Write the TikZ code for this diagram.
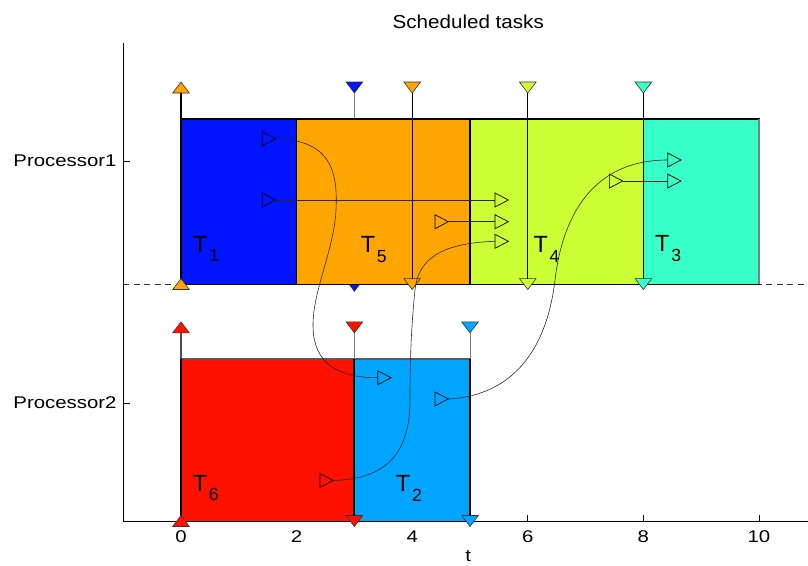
\documentclass[tikz,border=0pt]{standalone}
\usepackage{graphicx,fontspec}
\setmainfont{Liberation Sans}
\definecolor{tOne}{RGB}{0,20,255}
\definecolor{tTwo}{RGB}{0,165,255}
\definecolor{tThree}{RGB}{55,255,200}
\definecolor{tFour}{RGB}{204,255,51}
\definecolor{tFive}{RGB}{255,165,0}
\definecolor{tSix}{RGB}{255,17,0}
\usetikzlibrary{arrows.meta,shapes.geometric}
\newcommand{\tname}[1]{T\kern1.5pt\raisebox{-8pt}{\fontsize{15}{15}\selectfont #1}}
\newcommand{\wide}[1]{\scalebox{1.2}[1]{#1}}

\begin{document}
\begin{tikzpicture}[x=1.734cm,y=1.734cm,
  mkr/.style={isosceles triangle,isosceles triangle stretches,draw,inner sep=0pt,outer sep=0pt,minimum width=0.42cm,minimum height=0.40cm,line width=0.6pt},
  mks/.style={mkr,anchor=east},
  mke/.style={mkr,anchor=west},
  mkv/.style={isosceles triangle,isosceles triangle stretches,draw=black!80,inner sep=0pt,outer sep=0pt,minimum width=0.5cm,minimum height=0.33cm,line width=0.5pt},
  mkup/.style={mkv,rotate=90,anchor=west,fill=#1},
  mkdn/.style={mkv,rotate=-90,anchor=west,fill=#1},
  link/.style={line width=0.5pt,black!85},
  lbl/.style={font=\fontsize{20}{24}\selectfont,anchor=base west,inner sep=0pt},
  axl/.style={font=\fontsize{14.5}{17}\selectfont,inner sep=0pt}]
  \useasboundingbox (-3.131,-0.761) rectangle (10.848,9.014);
  % axes
  \draw[line width=0.6pt] (-1,8.27) -- (-1,0) -- (10.9,0);
  \foreach \x in {0,2,...,10} {
    \draw[line width=0.6pt] (\x,0) -- (\x,0.1);
    \node[axl] at (\x,-0.277) {\wide{\x}};
  }
  \draw[line width=0.6pt] (-1,6.228) -- (-0.88,6.228);
  \draw[line width=0.6pt] (-1,2.042) -- (-0.88,2.042);
  \node[axl,anchor=east] (p1) at (-1.11,6.228) {\wide{Processor1}};
  \node[axl,anchor=east] (p2) at (-1.11,2.042) {\wide{Processor2}};
  \node[axl,anchor=north] (tax) at (4.97,-0.5) {\wide{t}};
  \node[font=\fontsize{16}{19}\selectfont,inner sep=0pt] (ttl) at (4.97,8.63) {\scalebox{1.1}[1]{Scheduled tasks}};
  \draw[dash pattern=on 5pt off 4pt,black!80,line width=0.5pt] (-1,4.1) -- (10.9,4.1);
  % deadline of T1, partly under the boxes
  \node[mkdn=tOne] (da) at (3,7.595) {};
  \node[mkdn=tOne] (db) at (3,4.165) {};
  \draw[gray,line width=0.6pt] (da.east) -- (3,6.955);
  % Processor1
  \draw[line width=0.9pt,fill=tOne] (0,4.1) rectangle (2,6.955);
  \draw[line width=0.9pt,fill=tFive] (2,4.1) rectangle (5,6.955);
  \draw[line width=0.9pt,fill=tFour] (5,4.1) rectangle (8,6.955);
  \draw[line width=0.9pt,fill=tThree] (8,4.1) rectangle (10,6.955);
  \draw[gray,line width=0.9pt] (10,4.1) -- (10,6.955);
  \draw[line width=1.8pt] (0,4.1) -- (0,6.955);
  % Processor2
  \fill[tSix] (0,0) rectangle (3,2.803);
  \fill[tTwo] (3,0) rectangle (5,2.803);
  \draw[black!65,line width=0.9pt] (0,2.803) -- (5,2.803);
  \draw[line width=1.8pt] (0,0) -- (0,2.803) (3,0) -- (3,2.803);
  \draw[line width=0.9pt] (5,0) -- (5,2.803);
  % releases and deadlines
  \node[mkup=tFive] (ra) at (0,7.405) {};
  \node[mkup=tFive] (rb) at (0,4.005) {};
  \node[mkdn=tFive] (fa) at (4,7.595) {};
  \node[mkdn=tFive] (fb) at (4,4.195) {};
  \node[mkdn=tFour] (ga) at (6,7.595) {};
  \node[mkdn=tFour] (gb) at (6,4.195) {};
  \node[mkdn=tThree] (ha) at (8,7.595) {};
  \node[mkdn=tThree] (hb) at (8,4.195) {};
  \draw[line width=1.6pt] (ra.west) -- (0,6.955);
  \draw[line width=0.6pt] (fa.east) -- (fb.west);
  \draw[line width=0.6pt] (ga.east) -- (gb.west);
  \draw[line width=0.6pt] (ha.east) -- (hb.west);
  \node[mkup=tSix] (ka) at (0,3.255) {};
  \node[mkup=tSix] (kb) at (0,-0.095) {};
  \node[mkdn=tSix] (la) at (3,3.445) {};
  \node[mkdn=tSix] (lb) at (3,0.095) {};
  \node[mkdn=tTwo] (na) at (5,3.445) {};
  \node[mkdn=tTwo] (nb) at (5,0.095) {};
  \draw[black!70,line width=1.6pt] (ka.west) -- (0,2.803);
  \draw[gray,line width=0.6pt] (la.east) -- (3,2.803);
  \draw[gray,line width=0.6pt] (na.east) -- (5,2.803);
  % messages between tasks
  \node[mks] (s1) at (1.638,6.614) {};
  \node[mks] (s2) at (1.638,5.554) {};
  \node[mks] (s3) at (4.625,5.178) {};
  \node[mks] (s4) at (2.635,0.701) {};
  \node[mks] (s5) at (4.625,2.111) {};
  \node[mks] (s6) at (7.642,5.882) {};
  \node[mke] (e1) at (3.403,2.479) {};
  \node[mke] (e2) at (5.433,5.554) {};
  \node[mke] (e3) at (5.433,5.178) {};
  \node[mke] (e4) at (5.433,4.839) {};
  \node[mke] (e5) at (8.420,6.246) {};
  \node[mke] (e6) at (8.420,5.882) {};
  \draw[link] (s2.east) -- (e2.west);
  \draw[link] (s3.east) -- (e3.west);
  \draw[link] (s6.east) -- (e6.west);
  \draw[link] (s1.east) .. controls (2.578,6.592) and (2.716,6.073) .. (2.682,5.381)
    .. controls (2.647,4.689) and (2.284,3.997) .. (2.284,3.391)
    .. controls (2.284,2.699) and (2.751,2.479) .. (e1.west);
  \draw[link] (s4.east) .. controls (3.529,0.727) and (3.962,1.142) .. (3.962,2.093)
    .. controls (3.962,2.958) and (3.997,3.478) .. (4.048,3.997)
    .. controls (4.100,4.516) and (4.481,4.810) .. (e4.west);
  \draw[link] (s5.east) .. controls (5.865,2.180) and (6.349,3.131) .. (6.471,4.170)
    .. controls (6.592,5.208) and (7.076,6.246) .. (e5.west);
  % task names
  \node[lbl] (n1) at (0.208,4.654) {\tname{1}};
  \node[lbl] (n5) at (3.109,4.642) {\tname{5}};
  \node[lbl] (n4) at (6.095,4.637) {\tname{4}};
  \node[lbl] (n3) at (8.201,4.659) {\tname{3}};
  \node[lbl] (n6) at (0.202,0.519) {\tname{6}};
  \node[lbl] (n2) at (3.715,0.507) {\tname{2}};
\end{tikzpicture}
\end{document}
